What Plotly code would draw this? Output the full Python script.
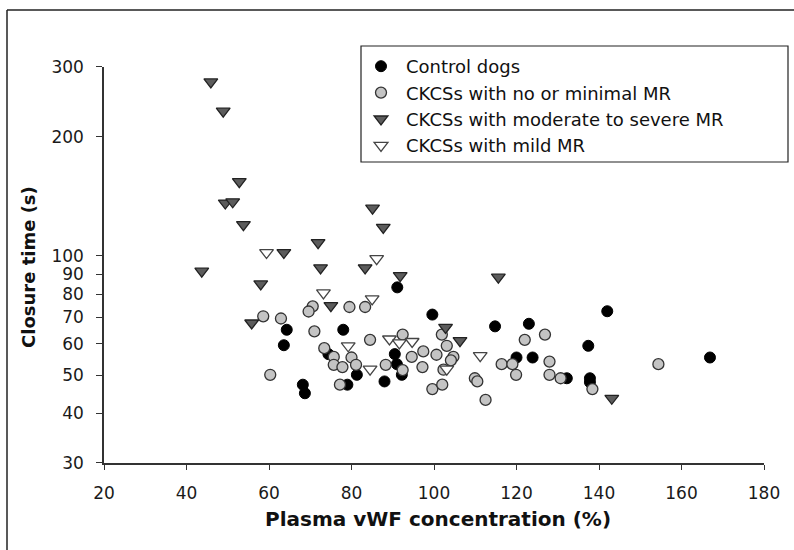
import plotly.graph_objects as go

# ---------------- data ----------------
control_x = [91.1, 99.6, 114.8, 123.0, 142.0, 137.4, 120.0, 123.9, 166.9, 132.2, 137.8, 137.8,
             64.3, 78.0, 63.6, 74.4, 90.5, 91.0, 92.2, 81.3, 88.0, 79.0, 68.2, 68.7]
control_y = [83.3, 71.1, 66.4, 67.4, 72.5, 59.3, 55.4, 55.4, 55.4, 49.1, 49.1, 48.0,
             65.1, 65.1, 59.5, 56.5, 56.5, 53.3, 50.1, 50.1, 48.2, 47.3, 47.3, 45.0]

nomin_x = [58.6, 62.9, 60.3, 70.6, 69.6, 79.5, 83.3, 71.0, 84.5, 73.4, 75.7, 75.7, 77.8, 80.0,
           81.1, 77.2, 88.3, 92.4, 97.4, 94.6, 100.6, 97.2, 101.9, 103.1, 104.7, 104.1, 102.3,
           99.6, 102.0, 109.9, 110.5, 112.5, 116.4, 119.0, 119.9, 122.0, 126.9, 128.0, 128.0,
           130.7, 138.4, 154.4, 92.4]
nomin_y = [70.4, 69.5, 50.1, 74.6, 72.4, 74.3, 74.3, 64.5, 61.4, 58.5, 55.6, 53.1, 52.4, 55.4,
           53.1, 47.3, 53.1, 63.3, 57.4, 55.6, 56.3, 52.4, 63.3, 59.3, 55.6, 54.5, 51.6,
           46.1, 47.3, 49.1, 48.2, 43.3, 53.3, 53.3, 50.1, 61.4, 63.3, 54.1, 50.1,
           49.1, 46.1, 53.3, 51.5]

severe_x = [45.9, 48.9, 52.8, 49.4, 51.2, 53.8, 63.6, 71.9, 43.7, 72.5, 85.1, 87.7, 83.3, 91.8,
            58.0, 75.0, 55.8, 115.6, 102.8, 106.3, 143.1]
severe_y = [275, 232, 154, 136, 137, 120, 102, 108, 91.5, 93.3, 132, 118, 93.3, 89.2,
            85, 74.9, 67.7, 88.4, 66.0, 61.1, 43.7]

mild_x = [59.4, 86.1, 73.2, 85.0, 79.2, 89.2, 91.6, 94.7, 84.5, 111.2, 103.1]
mild_y = [102, 98.4, 80.7, 77.9, 59.3, 61.7, 60.3, 60.8, 51.8, 56.0, 51.8]

series_names = ["Control dogs", "CKCSs with no or minimal MR",
                "CKCSs with moderate to severe MR", "CKCSs with mild MR"]

y_tickvals = [30, 40, 50, 60, 70, 80, 90, 100, 200, 300]
x_tickvals = [20, 40, 60, 80, 100, 120, 140, 160, 180]

x_title = "Plasma vWF concentration (%)"
y_title = "Closure time (s)"

# ---------------- figure ----------------
W, H = 794, 550
ML, MR, MT, MB = 104, 30, 67, 87
PW, PH = W - ML - MR, H - MT - MB


def px_x(p):
    return (p - ML) / PW


def px_y(p):
    return (H - MB - p) / PH


fig = go.Figure()
fig.add_trace(go.Scatter(x=control_x, y=control_y, mode="markers", name=series_names[0],
                         marker=dict(symbol="circle", size=11, color="#000000",
                                     line=dict(color="#000000", width=1))))
fig.add_trace(go.Scatter(x=nomin_x, y=nomin_y, mode="markers", name=series_names[1],
                         marker=dict(symbol="circle", size=11, color="#c4c4c4",
                                     line=dict(color="#333333", width=1.3))))
fig.add_trace(go.Scatter(x=severe_x, y=severe_y, mode="markers", name=series_names[2],
                         marker=dict(symbol="triangle-down", size=12, color="#5c5c5c",
                                     line=dict(color="#222222", width=1.3))))
fig.add_trace(go.Scatter(x=mild_x, y=mild_y, mode="markers", name=series_names[3],
                         marker=dict(symbol="triangle-down", size=12, color="#ffffff",
                                     line=dict(color="#444444", width=1.3))))

axis_common = dict(showline=True, linecolor="#333333", linewidth=1.5, ticks="outside",
                   tickcolor="#333333", tickwidth=1.3, showgrid=False, zeroline=False,
                   tickfont=dict(family="DejaVu Sans", size=17, color="#1a1a1a"))

fig.update_xaxes(range=[20, 180], tickvals=x_tickvals, ticklen=5, ticklabelstandoff=9,
                 **axis_common)
fig.update_yaxes(type="log", range=[1.4771, 2.4771], tickvals=y_tickvals,
                 ticktext=[str(v) for v in y_tickvals], ticklen=6, ticklabelstandoff=9,
                 **axis_common)

fig.add_annotation(text=x_title, xref="paper", yref="paper", x=px_x(438), y=px_y(519),
                   xanchor="center", yanchor="middle", showarrow=False,
                   font=dict(family="DejaVu Sans", size=20, color="#111111", weight="bold"))
fig.add_annotation(text=y_title, xref="paper", yref="paper", x=px_x(28), y=px_y(267),
                   xanchor="center", yanchor="middle", showarrow=False, textangle=-90,
                   font=dict(family="DejaVu Sans", size=18, color="#111111", weight="bold"))

# outer frame (left and top edges visible)
fig.add_shape(type="line", xref="paper", yref="paper", x0=px_x(7), x1=px_x(7),
              y0=px_y(10), y1=px_y(560), line=dict(color="#222222", width=1.5))
fig.add_shape(type="line", xref="paper", yref="paper", x0=px_x(7), x1=px_x(800),
              y0=px_y(10), y1=px_y(10), line=dict(color="#222222", width=1.5))
# legend frame
fig.add_shape(type="rect", xref="paper", yref="paper", x0=px_x(361), x1=px_x(788),
              y0=px_y(46), y1=px_y(162), line=dict(color="#222222", width=1.2),
              fillcolor="rgba(0,0,0,0)", layer="above")

fig.update_layout(
    width=W, height=H,
    margin=dict(l=ML, r=MR, t=MT, b=MB),
    paper_bgcolor="white", plot_bgcolor="white",
    showlegend=True,
    legend=dict(x=px_x(356), y=px_y(48), xanchor="left", yanchor="top",
                borderwidth=0, bgcolor="rgba(0,0,0,0)", itemwidth=40,
                font=dict(family="DejaVu Sans", size=18, color="#111111")),
)

fig.write_html("out.html")
